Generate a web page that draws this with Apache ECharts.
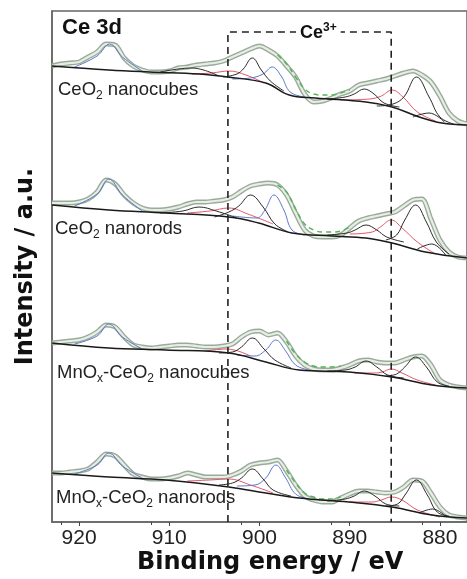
<!DOCTYPE html>
<html>
<head>
<meta charset="utf-8">
<script src="https://cdn.jsdelivr.net/npm/echarts@6/dist/echarts.min.js"></script>
<style>
html,body{margin:0;padding:0;background:#fff;}
#c{width:467px;height:579px;}
</style>
</head>
<body>
<div id="c"></div>
<script>
// Binding energy grid (eV) for the measured points
const energy = [923,922,921,920,919,918,917,916,915,914,913,912,911,910,909,908,907,906,905,904,903,902,901,900,899,898,897,896,895,894,893,892,891,890,889,888,887,886,885,884,883,882,881,880,879,878,877];

// Measured intensities (stacked, a.u.)
const cubesCeO2 = [456,458,459,460,465,470,478,477,464,456, 452,450,450,451,454,455,457,458,459,461, 465,469,473,476,472,466,456,445,428,420, 421,424,428,431,437,439,441,443,446,449, 451,447,440,426,409,401,398];
const rodsCeO2 = [319,319,319,320,323,330,342,338,327,319, 314,312,312,313,315,318,320,320,321,322, 325,331,336,338,339,337,327,309,292,286, 285,285,287,294,301,304,306,308,310,316, 322,323,303,282,270,265,264];
const cubesMn = [179,180,181,182,185,190,197,195,185,177, 175,174,175,176,177,177,176,175,175,176, 178,185,190,191,187,189, 180,166,157,153,152,152,154,157,161,162, 160,159,159,162,165,166,157,142,137,135,134];
const rodsMn = [49,49,50,51,53,60,68,66,57,48, 45,43,43,44,46,49,47,45,45,45, 47,51,57,59,60,62,51,37,26,22, 20,20,24,28,31,31,30,29,30,35, 42,41,29,15,7,5,4];

// Shirley backgrounds [eV, intensity]
const bgCubesCeO2 = [[923,456],[916.7,452],[912.2,450],[906.7,448],[903.5,445],[899.3,439],[896.7,427],[893.8,424],[888.2,420],[885.3,415],[882.3,405],[879.8,399],[877,397]];
const bgRodsCeO2 = [[923,317],[916.7,312],[910.4,309],[903.4,305],[900.1,299],[896.4,289],[892,286],[888.2,284],[885.3,279],[881.6,270],[877,264]];
const bgCubesMn = [[923,179],[916.7,174],[910.4,172],[903.4,169],[899.3,160],[895.6,152],[890.1,150],[885.3,145],[880.9,137],[877,134]];
const bgRodsMn = [[923,49],[916.7,45],[910.4,42],[903.4,35],[899.3,29],[895.6,24],[890.1,20],[885.3,15],[880.9,7],[877,4]];

// Fitted envelope (visible part, valley)
const envCubesCeO2 = [[898,467],[897,458],[896,445],[895,433],[894,428],[893,427],[892,427],[891,429],[890,432]];
const envRodsCeO2 = [[898,337],[897,330],[896,313],[895,298],[894,292],[893,290],[892,290],[891,291],[890,295]];
const envCubesMn = [[897,181],[896,168],[895,160],[894,156],[893,155],[892,155],[891,156]];
const envRodsMn = [[897,52],[896,39],[895,29],[894,25],[893,23],[892,23],[891,25]];

// Ce4+ components (blue)
const blueCubesCeO2 = [
  [[920.5,455],[918,466],[916.6,478],[915.2,465],[913,451]],
  [[903,443],[901,444],[899.6,448],[898.6,455],[897.6,446],[896.6,430],[895,425]]
];
const blueRodsCeO2 = [
  [[920.5,316],[918,328],[916.7,343],[915.2,327],[913,311]],
  [[903,306],[900.3,304],[899.4,312],[898.4,327],[897.3,312],[896.4,292],[895,287]]
];
const blueCubesMn = [
  [[920.5,178],[918,186],[916.7,198],[915.2,185],[913,173]],
  [[902.5,167],[900.5,166],[899.3,172],[898.2,182],[897.1,171],[896,157],[894.5,152]]
];
const blueRodsMn = [
  [[920.5,48],[918,57],[916.7,69],[915.2,56],[913,44]],
  [[902.5,36],[900.5,37],[899.3,44],[898.2,57],[897.1,44],[896,28],[894.5,23]]
];

// Ce4+ components (black)
const blackCubesCeO2 = [
  [[904,445],[902.5,448],[901.8,453],[900.8,464],[899.8,452],[898.8,441],[897.3,431]],
  [[911,450],[907.5,454],[904.5,446]],
  [[892.5,423],[890.5,425],[889.5,428],[888.4,433],[887.3,428],[886.2,419],[884.5,415]],
  [[887,416],[885.2,418],[884,425],[882.6,445],[881.2,425],[880,405],[878.5,398]],
  [[883,405],[881.2,409],[879.5,400]]
];
const blackRodsCeO2 = [
  [[905,305],[903.4,310],[902.3,316],[901,327],[899.6,315],[898.3,298],[896.8,290]],
  [[911,309],[908.5,311],[906.7,315],[904.8,311],[902.5,304]],
  [[892.5,287],[890.3,289],[889.4,292],[888.2,297],[887,292],[885.9,285],[884,280]],
  [[886,282],[884.8,287],[883.9,302],[882.7,317],[881.5,300],[880.4,280],[879,268]],
  [[882.5,273],[880.9,278],[879.3,266]]
];
const blackCubesMn = [
  [[904.5,169],[903,170],[902,175],[900.8,184],[899.5,173],[898.3,162],[896.5,154]],
  [[892.5,151],[890.5,152],[889.4,155],[888.2,161],[887,155],[885.8,147],[884,144]],
  [[886,146],[884.8,148],[883.9,155],[882.7,165],[881.5,155],[880.3,140],[879,136]]
];
const blackRodsMn = [
  [[904.5,37],[903,39],[902,44],[900.8,53],[899.6,43],[898.5,32],[896.5,26]],
  [[892.5,21],[890.5,23],[889.5,26],[888.4,31],[887.2,26],[886,18],[884.5,16]],
  [[886,16],[884.7,18],[883.8,28],[882.6,42],[881.4,27],[880.3,10],[879,6]],
  [[882.3,9],[880.8,13],[879.3,5]]
];

// Ce3+ components (red)
const redCubesCeO2 = [
  [[907.5,448],[905.3,449],[903.4,451],[901.5,447],[899.5,439]],
  [[891,422],[887.8,423],[886.5,426],[885.3,432],[884.1,425],[882.5,410],[880.5,401]]
];
const redRodsCeO2 = [
  [[908,309],[905.5,311],[903.4,314],[901.3,308],[898.5,298]],
  [[890,288],[887.5,290],[886.6,295],[885.4,302],[884.2,294],[882.5,280],[880.5,268]]
];
const redCubesMn = [
  [[906,171],[903.6,173],[901,166]],
  [[889.5,149],[887.3,149],[886.4,150],[885.4,153],[884.2,149],[882.5,142],[880.5,137]]
];
const redRodsMn = [
  [[908,41],[905.5,42],[903.4,43],[901,37],[898.5,29]],
  [[890,20],[887.5,20],[886.5,22],[885.4,25],[884.2,22],[882.5,12],[880,5]]
];

// Ce3+ region box
const boxEdges = [903.5, 885.4];
const boxTop = 490;
const xTicks = [920, 910, 900, 890, 880];

const chart = echarts.init(document.getElementById('c'), null, {renderer: 'canvas'});

function ln(data, color, width, opts) {
  return Object.assign({
    type: 'line', data: data, smooth: 0.4, symbol: 'none', silent: true, animation: false,
    lineStyle: {color: color, width: width}
  }, opts || {});
}

const series = [];
const spectra = [
  {d: cubesCeO2, bg: bgCubesCeO2, env: envCubesCeO2, blue: blueCubesCeO2, black: blackCubesCeO2, red: redCubesCeO2},
  {d: rodsCeO2, bg: bgRodsCeO2, env: envRodsCeO2, blue: blueRodsCeO2, black: blackRodsCeO2, red: redRodsCeO2},
  {d: cubesMn, bg: bgCubesMn, env: envCubesMn, blue: blueCubesMn, black: blackCubesMn, red: redCubesMn},
  {d: rodsMn, bg: bgRodsMn, env: envRodsMn, blue: blueRodsMn, black: blackRodsMn, red: redRodsMn}
];
spectra.forEach(function (s) {
  const pts = energy.map(function (e, i) { return [e, s.d[i]]; });
  series.push(ln(pts, '#9aab9c', 5, {z: 2, smooth: 0.3}));
  series.push(ln(pts, '#e8eee4', 2.2, {z: 3, smooth: 0.3}));
  series.push(ln(s.env, '#55b35a', 1.5, {z: 4, lineStyle: {color: '#55b35a', width: 1.5, type: [5, 4]}}));
  s.red.forEach(function (p) { series.push(ln(p, '#e2576a', 1, {z: 5})); });
  s.blue.forEach(function (p) { series.push(ln(p, '#5b78c8', 1, {z: 5})); });
  s.black.forEach(function (p) { series.push(ln(p, '#2b2b2b', 1, {z: 6})); });
  series.push(ln(s.bg, '#1a1a1a', 1.5, {z: 7}));
});

// dashed Ce3+ box
series.push({
  type: 'line', silent: true, animation: false, symbol: 'none', z: 8,
  data: [[boxEdges[0], 0], [boxEdges[0], boxTop], [boxEdges[1], boxTop], [boxEdges[1], 0]],
  lineStyle: {color: '#222', width: 1.6, type: [7, 5]}
});

const labRich = {
  n: {fontFamily: 'Liberation Sans', fontWeight: 'normal', fontSize: 18.5, color: '#222', lineHeight: 24},
  s: {fontFamily: 'Liberation Sans', fontWeight: 'normal', fontSize: 12, color: '#222', lineHeight: 12, verticalAlign: 'bottom'}
};

chart.setOption({
  backgroundColor: '#fff',
  animation: false,
  grid: {left: 52, top: 11, width: 417, height: 511, show: true, borderColor: '#666', borderWidth: 1.5, backgroundColor: 'transparent'},
  title: [
    {text: 'Ce 3d', left: 62, top: 16, padding: 0, textStyle: {fontFamily: 'Liberation Sans', fontWeight: 'bold', fontSize: 22, color: '#111', lineHeight: 24}},
    {text: '{a|Ce}{b|3+}', left: 296, top: 22, padding: [0, 4, 0, 4], backgroundColor: '#fff', z: 10,
      textStyle: {rich: {
        a: {fontFamily: 'Liberation Sans', fontWeight: 'bold', fontSize: 18, color: '#111', lineHeight: 22},
        b: {fontFamily: 'Liberation Sans', fontWeight: 'bold', fontSize: 12, color: '#111', lineHeight: 12, verticalAlign: 'top'}
      }}},
    {text: '{n|CeO}{s|2}{n| nanocubes}', left: 58, top: 78, padding: 0, textStyle: {rich: labRich}},
    {text: '{n|CeO}{s|2}{n| nanorods}', left: 55, top: 217, padding: 0, textStyle: {rich: labRich}},
    {text: '{n|MnO}{s|x}{n|-CeO}{s|2}{n| nanocubes}', left: 57, top: 361, padding: 0, textStyle: {rich: labRich}},
    {text: '{n|MnO}{s|x}{n|-CeO}{s|2}{n| nanorods}', left: 56, top: 486, padding: 0, textStyle: {rich: labRich}},
    {text: 'Binding energy / eV', left: 137, top: 549, padding: 0, textStyle: {fontFamily: 'DejaVu Sans', fontWeight: 'bold', fontSize: 24, color: '#111', lineHeight: 28}}
  ],
  xAxis: {
    type: 'value', min: 877, max: 923, inverse: true, interval: 10,
    axisLine: {show: true, onZero: false, lineStyle: {color: '#666', width: 1.5}},
    axisTick: {show: true, length: 4, lineStyle: {color: '#444'}, customValues: xTicks},
    minorTick: {show: true, splitNumber: 2, length: 3, lineStyle: {color: '#444'}},
    splitLine: {show: false},
    axisLabel: {fontFamily: 'Liberation Sans', fontSize: 21, color: '#222', margin: 6, customValues: xTicks}
  },
  yAxis: {
    type: 'value', min: 0, max: 511,
    name: 'Intensity / a.u.', nameLocation: 'middle', nameGap: 14,
    nameTextStyle: {fontFamily: 'DejaVu Sans', fontWeight: 'bold', fontSize: 24, color: '#111'},
    axisLine: {show: true, lineStyle: {color: '#666', width: 1.5}},
    axisTick: {show: false}, axisLabel: {show: false}, splitLine: {show: false}
  },
  series: series
});
</script>
</body>
</html>
